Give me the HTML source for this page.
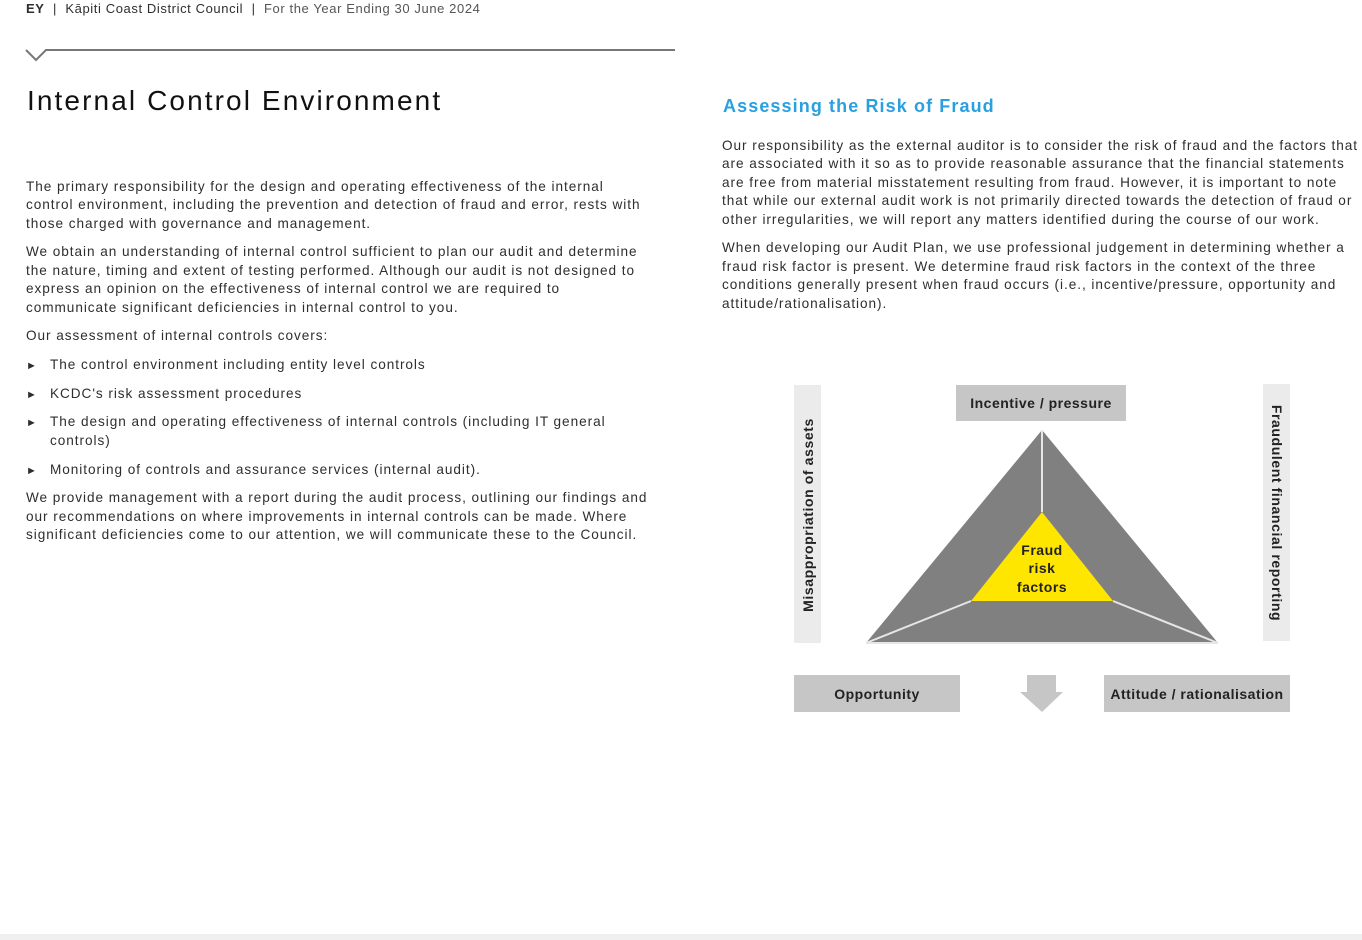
<!DOCTYPE html>
<html><head><meta charset="utf-8"><style>
body{margin:0;width:1362px;height:940px;background:#fff;position:relative;overflow:hidden;font-family:"Liberation Sans",sans-serif;color:#2e2e2e}
.l{position:absolute;white-space:nowrap;font-size:13.6px;line-height:18px;letter-spacing:0.95px}
.b{position:absolute;background:#c6c6c6;font-weight:bold;font-size:14px;color:#222;display:flex;align-items:center;justify-content:center;letter-spacing:0.5px}
</style></head><body>
<div class="l" style="left:26px;top:0;font-size:13px;letter-spacing:0.6px"><b>EY</b> &nbsp;|&nbsp; Kāpiti Coast District Council &nbsp;|&nbsp; <span style="color:#555">For the Year Ending 30 June 2024</span></div>
<svg style="position:absolute;left:0;top:0" width="700" height="70"><path d="M26 50 L36 60 L46 50 L675 50" stroke="#777" stroke-width="2" fill="none"/></svg>
<div class="l" style="left:27px;top:84px;font-size:28px;line-height:34px;color:#111;letter-spacing:2.1px">Internal Control Environment</div>
<div class="l" style="left:26px;top:178px">The primary responsibility for the design and operating effectiveness of the internal</div>
<div class="l" style="left:26px;top:196px">control environment, including the prevention and detection of fraud and error, rests with</div>
<div class="l" style="left:26px;top:215px">those charged with governance and management.</div>
<div class="l" style="left:26px;top:243px">We obtain an understanding of internal control sufficient to plan our audit and determine</div>
<div class="l" style="left:26px;top:262px">the nature, timing and extent of testing performed. Although our audit is not designed to</div>
<div class="l" style="left:26px;top:280px">express an opinion on the effectiveness of internal control we are required to</div>
<div class="l" style="left:26px;top:299px">communicate significant deficiencies in internal control to you.</div>
<div class="l" style="left:26px;top:327px">Our assessment of internal controls covers:</div>
<div class="l" style="left:26px;top:357px;font-size:11px">►</div><div class="l" style="left:50px;top:356px">The control environment including entity level controls</div>
<div class="l" style="left:26px;top:386px;font-size:11px">►</div><div class="l" style="left:50px;top:385px">KCDC's risk assessment procedures</div>
<div class="l" style="left:26px;top:414px;font-size:11px">►</div><div class="l" style="left:50px;top:413px">The design and operating effectiveness of internal controls (including IT general</div>
<div class="l" style="left:50px;top:432px">controls)</div>
<div class="l" style="left:26px;top:462px;font-size:11px">►</div><div class="l" style="left:50px;top:461px">Monitoring of controls and assurance services (internal audit).</div>
<div class="l" style="left:26px;top:489px">We provide management with a report during the audit process, outlining our findings and</div>
<div class="l" style="left:26px;top:508px">our recommendations on where improvements in internal controls can be made. Where</div>
<div class="l" style="left:26px;top:526px">significant deficiencies come to our attention, we will communicate these to the Council.</div>

<div class="l" style="left:723px;top:95px;font-size:18px;line-height:22px;color:#2aa0e0;font-weight:bold;letter-spacing:1.1px">Assessing the Risk of Fraud</div>
<div class="l" style="left:722px;top:137px">Our responsibility as the external auditor is to consider the risk of fraud and the factors that</div>
<div class="l" style="left:722px;top:155px">are associated with it so as to provide reasonable assurance that the financial statements</div>
<div class="l" style="left:722px;top:174px">are free from material misstatement resulting from fraud. However, it is important to note</div>
<div class="l" style="left:722px;top:192px">that while our external audit work is not primarily directed towards the detection of fraud or</div>
<div class="l" style="left:722px;top:211px">other irregularities, we will report any matters identified during the course of our work.</div>
<div class="l" style="left:722px;top:239px">When developing our Audit Plan, we use professional judgement in determining whether a</div>
<div class="l" style="left:722px;top:258px">fraud risk factor is present. We determine fraud risk factors in the context of the three</div>
<div class="l" style="left:722px;top:276px">conditions generally present when fraud occurs (i.e., incentive/pressure, opportunity and</div>
<div class="l" style="left:722px;top:295px">attitude/rationalisation).</div>

<div class="b" style="left:956px;top:385px;width:170px;height:36px">Incentive / pressure</div>
<div class="b" style="left:794px;top:675px;width:166px;height:37px">Opportunity</div>
<div class="b" style="left:1104px;top:675px;width:186px;height:37px">Attitude / rationalisation</div>
<div style="position:absolute;left:794px;top:385px;width:27px;height:258px;background:#ebebeb"></div>
<div style="position:absolute;left:1263px;top:384px;width:27px;height:257px;background:#ebebeb"></div>
<div class="l" style="left:808px;top:515px;font-weight:bold;font-size:14px;letter-spacing:0.6px;transform:translate(-50%,-50%) rotate(-90deg);color:#222">Misappropriation of assets</div>
<div class="l" style="left:1277px;top:513px;font-weight:bold;font-size:14px;letter-spacing:0.6px;transform:translate(-50%,-50%) rotate(90deg);color:#222">Fraudulent financial reporting</div>
<svg style="position:absolute;left:0;top:0" width="1362" height="940">
<polygon points="1042,430 866,643 1218,643" fill="#808080"/>
<polygon points="1042,512 971,601 1113,601" fill="#ffe600"/>
<g stroke="#e6e6e6" stroke-width="2"><line x1="1042" y1="430" x2="1042" y2="512"/><line x1="971" y1="601" x2="866" y2="643"/><line x1="1113" y1="601" x2="1218" y2="643"/><line x1="866" y1="643" x2="1218" y2="643"/></g>
<polygon points="1027,675 1056,675 1056,692 1063,692 1042,712 1020,692 1027,692" fill="#c6c6c6"/>
<g font-size="14" font-weight="bold" fill="#222" font-family="Liberation Sans" text-anchor="middle" letter-spacing="0.5">
<text x="1042" y="555">Fraud</text>
<text x="1042" y="573">risk</text>
<text x="1042" y="592">factors</text></g>
</svg>
<div style="position:absolute;left:0;top:934px;width:1362px;height:6px;background:#f0f0f0"></div>
</body></html>
